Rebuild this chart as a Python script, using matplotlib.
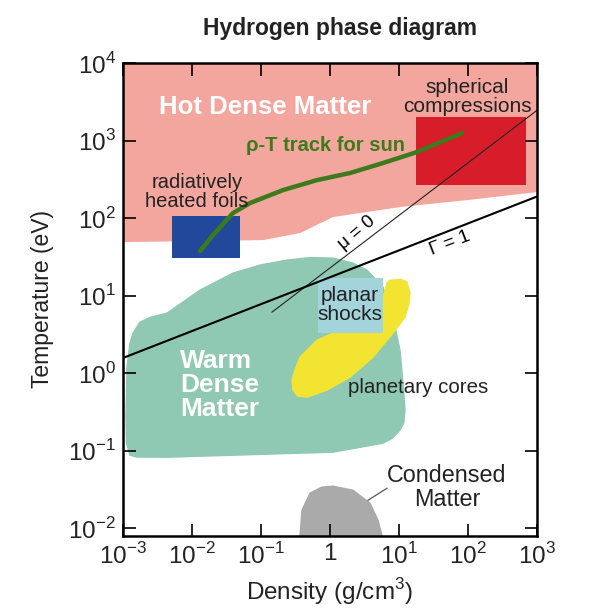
import numpy as np
from matplotlib import pyplot as plt
from matplotlib.patches import Polygon, Rectangle

plt.rcParams['font.family'] = ['Liberation Sans', 'DejaVu Sans']
plt.rcParams['mathtext.fontset'] = 'custom'
plt.rcParams['mathtext.rm'] = 'Liberation Sans'

# ------------------------------------------------------------
# shapes, all in log10(density), log10(temperature)
hot_lr = [-3.0, -0.971, -0.435, 0.043, 1.014, 1.986, 3.0]
hot_lt = [1.690, 1.716, 1.806, 2.013, 2.142, 2.232, 2.335]

warm_lr = [-0.623, -0.30, 0.043, 0.330, 0.536, 0.768, 0.913, 1.014, 1.058, 1.087,
           1.070, 1.014, 0.900, 0.768, 0.043, -1.406, -2.362, -2.800, -2.899, -2.950,
           -2.957, -2.942, -2.900, -2.855, -2.754, -2.600, -2.362, -1.884, -1.406,
           -1.014]
warm_lt = [1.458, 1.490, 1.484, 1.420, 1.329, 1.110, 0.723, 0.297, -0.129, -0.477,
           -0.640, -0.735, -0.840, -0.903, -1.019, -1.058, -1.084, -1.082, -1.058,
           -0.900, -0.568, 0.077, 0.380, 0.516, 0.658, 0.720, 0.774, 1.071, 1.290,
           1.394]

core_lr = [0.913, 1.030, 1.116, 1.159, 1.140, 1.087, 0.913, 0.623, 0.290, -0.043,
           -0.333, -0.470, -0.536, -0.551, -0.500, -0.435, -0.188, 0.043, 0.536,
           0.768, 0.826, 0.860]
core_lt = [1.200, 1.210, 1.174, 1.032, 0.880, 0.723, 0.516, 0.206, -0.052, -0.219,
           -0.310, -0.295, -0.219, -0.090, 0.060, 0.206, 0.426, 0.516, 0.723,
           0.981, 1.161, 1.195]

cond_lr = [-0.435, -0.406, -0.290, -0.120, 0.043, 0.333, 0.580, 0.696, 0.754]
cond_lt = [-2.1, -1.768, -1.548, -1.470, -1.458, -1.510, -1.677, -1.897, -2.1]

# boxes: (lr0, lr1, lt0, lt1)
sphere_box = (1.246, 2.841, 2.426, 3.303)
foil_box = (-2.29, -1.304, 1.484, 2.026)
shock_box = (-0.174, 0.768, 0.516, 1.226)

sun_lr = [-1.884, -1.696, -1.406, -1.159, -0.681, -0.188, 0.290, 0.768, 1.261, 1.913]
sun_lt = [1.574, 1.781, 2.065, 2.194, 2.361, 2.490, 2.581, 2.710, 2.852, 3.097]

mu_lr = [-0.841, 3.0]
mu_lt = [0.787, 3.39]
gamma_lr = [-3.0, 3.0]
gamma_lt = [0.196, 2.278]

xticks = [1e-3, 1e-2, 1e-1, 1, 1e1, 1e2, 1e3]
xlabels = ['10$^{-3}$', '10$^{-2}$', '10$^{-1}$', '1', '10$^{1}$', '10$^{2}$', '10$^{3}$']
yticks = [1e-2, 1e-1, 1, 1e1, 1e2, 1e3, 1e4]
ylabels = ['10$^{-2}$', '10$^{-1}$', '10$^{0}$', '10$^{1}$', '10$^{2}$', '10$^{3}$', '10$^{4}$']


def poly(lr, lt):
    return np.column_stack([10.0 ** np.array(lr), 10.0 ** np.array(lt)])


def box(ax, b, color):
    ax.add_patch(Rectangle((10 ** b[0], 10 ** b[2]), 10 ** b[1] - 10 ** b[0],
                           10 ** b[3] - 10 ** b[2], facecolor=color, edgecolor='none'))


fig = plt.figure(figsize=(5.89, 6.14), dpi=100)
ax = fig.add_axes([123 / 589, 1 - 536 / 614, 414 / 589, 473 / 614])
ax.set_xscale('log')
ax.set_yscale('log')
ax.set_xlim(1e-3, 1e3)
ax.set_ylim(10 ** -2.1, 1e4)

# hot dense matter band up to the top
hot = poly(hot_lr + [3.0, -3.0], hot_lt + [4.0, 4.0])
ax.add_patch(Polygon(hot, closed=True, facecolor='#f3a69d', edgecolor='none'))
box(ax, sphere_box, '#d81d2a')
box(ax, foil_box, '#22489b')

ax.add_patch(Polygon(poly(warm_lr, warm_lt), closed=True, facecolor='#8fc8b3',
                     edgecolor='#8fc8b3', joinstyle='round', linewidth=1))
ax.add_patch(Polygon(poly(core_lr, core_lt), closed=True, facecolor='#f2e430',
                     edgecolor='#f2e430', joinstyle='round', linewidth=1))
box(ax, shock_box, '#a3d3db')
ax.add_patch(Polygon(poly(cond_lr, cond_lt), closed=True, facecolor='#aaaaaa',
                     edgecolor='#aaaaaa', joinstyle='round', linewidth=1))

ax.plot(10.0 ** np.array(sun_lr), 10.0 ** np.array(sun_lt), color='#3d7a1c',
        linewidth=3.2, solid_capstyle='round')
ax.plot(10.0 ** np.array(mu_lr), 10.0 ** np.array(mu_lt), color='#222222', linewidth=0.8)
ax.plot(10.0 ** np.array(gamma_lr), 10.0 ** np.array(gamma_lt), color='black', linewidth=1.5)
ax.plot([10 ** 0.551, 10 ** 0.826], [10 ** -1.639, 10 ** -1.484], color='#555555', linewidth=0.9)

# labels
ax.text(10 ** -0.942, 10 ** 3.432, 'Hot Dense Matter', color='white', fontsize=18.5,
        fontweight='bold', ha='center', va='center')
ax.text(10 ** 1.986, 10 ** 3.561, 'spherical\ncompressions', fontsize=15,
        ha='center', va='center', linespacing=1.0, color='#222222')
ax.text(10 ** -1.928, 10 ** 2.335, 'radiatively\nheated foils', fontsize=14.5,
        ha='center', va='center', linespacing=1.0, color='#222222')
ax.text(10 ** -0.058, 10 ** 2.942, '\u03c1-T track for sun', fontsize=14.5, color='#3d7a1c',
        fontweight='bold', ha='center', va='center')
ax.text(10 ** 0.391, 10 ** 1.806, '\u03bc = 0', fontsize=13.5, rotation=40,
        ha='center', va='center')
ax.text(10 ** 1.739, 10 ** 1.677, '\u0393 = 1', fontsize=13.5, rotation=21,
        ha='center', va='center')
ax.text(10 ** 0.290, 10 ** 0.877, 'planar\nshocks', fontsize=15, ha='center',
        va='center', linespacing=1.0, color='#222222')
ax.text(10 ** 0.261, 10 ** -0.181, 'planetary cores', fontsize=14.8, ha='left',
        va='center', color='#222222')
ax.text(10 ** -2.174, 10 ** -0.155, 'Warm\nDense\nMatter', fontsize=19, color='white',
        fontweight='bold', ha='left', va='center', linespacing=1.0)
ax.text(10 ** 1.696, 10 ** -1.471, 'Condensed\nMatter', fontsize=16.8, ha='center',
        va='center', linespacing=1.05, color='#222222')

ax.set_xticks(xticks)
ax.set_xticklabels(xlabels)
ax.set_yticks(yticks)
ax.set_yticklabels(ylabels)
ax.minorticks_off()
ax.tick_params(direction='in', length=9, width=1.2, top=True, right=True,
               labelsize=17.5, pad=5, labelcolor='#222222')
for s in ax.spines.values():
    s.set_linewidth(1.8)

ax.set_xlabel('Density (g/cm$^3$)', fontsize=17.5, labelpad=5, color='#222222')
ax.set_ylabel('Temperature (eV)', fontsize=16.5, labelpad=10, color='#222222')
fig.text(340 / 589, 1 - 29 / 614, 'Hydrogen phase diagram', fontsize=16.5,
         fontweight='bold', ha='center', va='center', color='#222222')

fig.savefig('out.png', dpi=100)
